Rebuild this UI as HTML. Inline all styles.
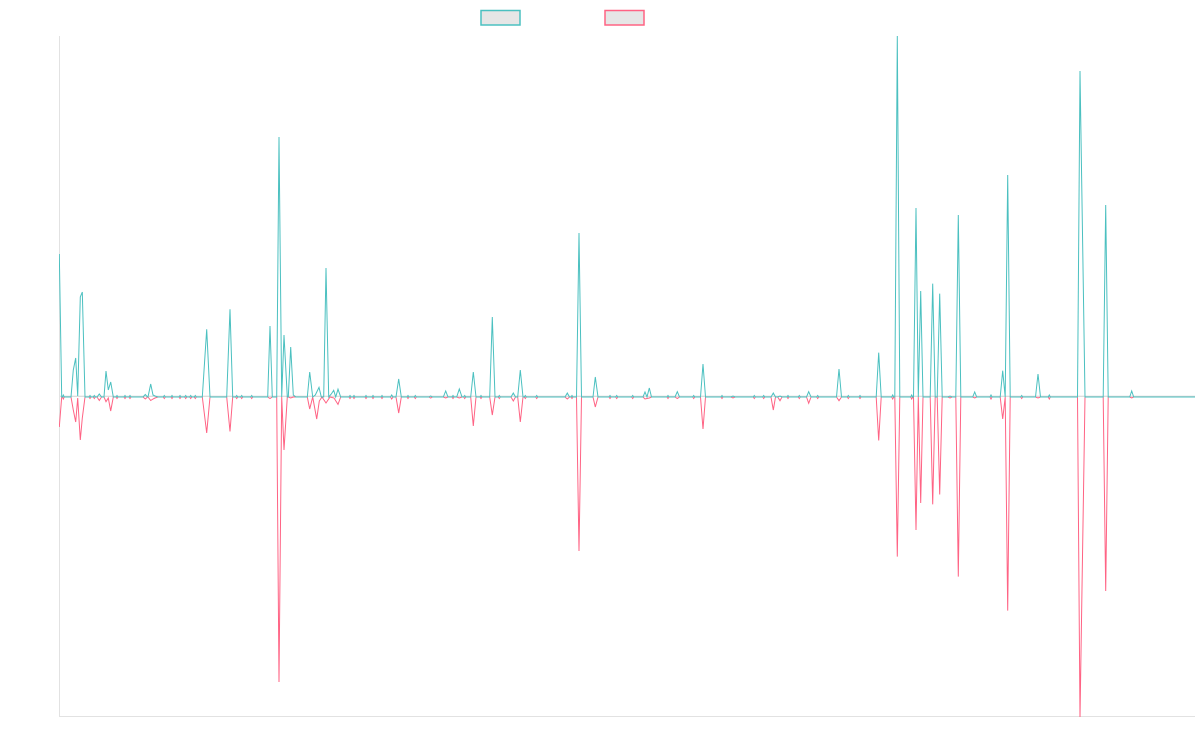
<!DOCTYPE html>
<html>
<head>
<meta charset="utf-8">
<style>
html,body{margin:0;padding:0;background:#fff;}
body{width:1200px;height:750px;overflow:hidden;font-family:"Liberation Sans",sans-serif;}
svg{display:block;}
</style>
</head>
<body>
<svg width="1200" height="750" viewBox="0 0 1200 750" xmlns="http://www.w3.org/2000/svg">
  <rect x="0" y="0" width="1200" height="750" fill="#ffffff"/>
  <!-- legend -->
  <rect x="481" y="10.5" width="39" height="14.5" fill="#e6e6e6" stroke="rgb(75,192,192)" stroke-width="1.5"/>
  <rect x="605" y="10.5" width="39" height="14.5" fill="#e6e6e6" stroke="rgb(255,99,132)" stroke-width="1.5"/>
  <!-- axes -->
  <line x1="59.5" y1="36" x2="59.5" y2="716.5" stroke="#e2e2e2" stroke-width="1"/>
  <line x1="59" y1="716.5" x2="1195" y2="716.5" stroke="#e2e2e2" stroke-width="1"/>
  <line x1="60" y1="396.3" x2="1195" y2="396.3" stroke="#d4d4d4" stroke-width="1"/>
  <defs><clipPath id="c"><rect x="59" y="35" width="1137" height="682"/></clipPath></defs>
  <g clip-path="url(#c)" fill="none" stroke-width="1" stroke-linejoin="miter" stroke-miterlimit="4">
  <path stroke="rgb(255,99,132)" d="M59.3,427 L61.7,397 L62.5,397 L63.3,399 L64.2,397 L71,397 L73.3,410 L75.7,422 L77.7,398 L80.3,440 L82.3,418 L85,397 L89,397 L90,398.5 L91,397 L93.3,397 L94.3,398.5 L95.3,397 L97,397 L99.3,400.5 L101.5,397 L104,397 L106,401.7 L108.3,398 L110.7,411 L113.3,397 L116,397 L117,398.5 L118,397 L124,397 L125,398.5 L126,397 L129,397 L130,398.5 L131,397 L143,397 L145.3,399 L147.5,397 L148,397 L150.7,400.5 L153,399 L155,398 L158,397 L163.3,397 L164.3,398.5 L165.3,397 L171,397 L172,398.5 L173,397 L179,397 L180,398.5 L181,397 L184.7,397 L185.7,398.5 L186.7,397 L189.7,397 L190.7,398.5 L191.7,397 L194.3,397 L195.3,398.5 L196.3,397 L202.3,397 L206.7,433 L210,397 L226.7,397 L230,431.5 L232.7,397 L235.7,397 L236.7,398.5 L237.7,397 L240.7,397 L241.7,398.5 L242.7,397 L250.7,397 L251.7,398.5 L252.7,397 L267.7,397 L270,398.5 L272.3,397 L276.7,397 L279,682 L281.7,397 L284,450 L287.3,397 L288.3,397 L290.7,398 L293.3,397 L296,397 L307.3,397 L309.7,409 L312.7,397 L316.7,419 L319.3,401 L322,397 L326,403 L330,397 L334,398 L338,404.4 L340.7,397 L349,397 L350,398.5 L351,397 L353,397 L354,398.5 L355,397 L365,397 L366,398.5 L367,397 L372,397 L373,398.5 L374,397 L381,397 L382,398.5 L383,397 L390.5,397 L391.7,399 L393,397 L396,397 L398.7,413 L401.3,397 L407,397 L408,398.5 L409,397 L414.3,397 L415.3,398.5 L416.3,397 L429,397 L430.7,398 L432.5,397 L443.3,397 L445.7,398 L448,397 L452,397 L453,398.5 L454,397 L456.7,397 L459.3,398 L462,397 L463.7,397 L464.7,398.5 L465.7,397 L470.7,397 L473.3,426 L476,397 L480,397 L481,398.5 L482,397 L489.7,397 L492.3,415 L495,397 L498.3,397 L499.3,398.5 L500.3,397 L511,397 L513.3,401 L515.5,397 L517.7,397 L520.3,422 L523,397 L524.3,397 L525.3,398.5 L526.3,397 L535.7,397 L536.7,398.5 L537.7,397 L565,397 L567.3,399 L569.5,397 L571,397 L572,398.5 L573,397 L576.5,397 L579,551 L581.5,397 L593,397 L595.3,407 L598,397 L609,397 L610,398.5 L611,397 L615.7,397 L616.7,398.5 L617.7,397 L631.7,397 L632.7,398.5 L633.7,397 L643,397 L645,399 L647,398.5 L649.3,398 L651.5,397 L667,397 L668,398.5 L669,397 L675,397 L677.3,398.5 L679.5,397 L692.7,397 L693.7,398.5 L694.7,397 L700.5,397 L703,429 L705.5,397 L721,397 L722,398.5 L723,397 L731,397 L733,398 L735,397 L753.3,397 L754.3,398.5 L755.3,397 L762.7,397 L763.7,398.5 L764.7,397 L771,397 L773.3,410 L775.5,397 L777.7,397 L780,400.7 L782,397 L787,397 L788,398.5 L789,397 L798.3,397 L799.3,398.5 L800.3,397 L806.5,397 L808.7,403.3 L811,397 L816.7,397 L817.7,398.5 L818.7,397 L836.5,397 L839,400.7 L841.5,397 L847.3,397 L848.3,398.5 L849.3,397 L859,397 L860,398.5 L861,397 L876.2,397 L878.7,440.5 L881.2,397 L891.7,397 L892.7,399 L893.7,397 L894.8,397 L897.3,556.6 L899.8,397 L910.7,397 L911.7,399 L912.7,397 L913.5,397 L916,530 L918.3,397 L920.7,503 L923,397 L930.2,397 L932.7,504.4 L935.2,397 L937.2,397 L939.7,494.5 L942.2,397 L948,397 L950,398 L952,397 L955.8,397 L958.3,576.6 L960.8,397 L972.7,397 L974.7,398 L976.7,397 L990,397 L991,399 L992,397 L1000.2,397 L1002.7,419 L1005.2,397 L1007.7,610.6 L1010.2,397 L1020.7,397 L1021.7,398.5 L1022.7,397 L1035.5,397 L1038,398 L1040.5,397 L1048.3,397 L1049.3,399 L1050.3,397 L1077.5,397 L1080,718 L1082.5,556 L1085,397 L1103.2,397 L1105.7,591 L1108.2,397 L1129.7,397 L1131.7,398 L1133.7,397 L1195,397"/>
  <path stroke="rgb(75,192,192)" d="M59.3,254 L61.7,397 L62.5,397 L63.3,395 L64.2,397 L71,397 L73.3,370 L75.7,358 L77.7,396 L80.3,297 L82.3,292 L85,397 L89,397 L90,395.5 L91,397 L93.3,397 L94.3,395.5 L95.3,397 L97,397 L99.3,394 L101.5,397 L104,397 L106,371 L108.3,390 L110.7,382 L113.3,397 L116,397 L117,395.5 L118,397 L124,397 L125,395.5 L126,397 L129,397 L130,395.5 L131,397 L143,397 L145.3,394.5 L147.5,397 L148,397 L150.7,384 L153,395 L155,396 L158,397 L163.3,397 L164.3,395.5 L165.3,397 L171,397 L172,395.5 L173,397 L179,397 L180,395.5 L181,397 L184.7,397 L185.7,395.5 L186.7,397 L189.7,397 L190.7,395.5 L191.7,397 L194.3,397 L195.3,395.5 L196.3,397 L202.3,397 L206.7,329.3 L210,397 L226.7,397 L230,309.3 L232.7,397 L235.7,397 L236.7,395.5 L237.7,397 L240.7,397 L241.7,395.5 L242.7,397 L250.7,397 L251.7,395.5 L252.7,397 L267.7,397 L270,326 L272.3,397 L276.7,397 L279,137 L281.7,397 L284,335 L287.3,397 L288.3,397 L290.7,347 L293.3,395 L296,397 L307.3,397 L309.7,372 L312.7,397 L315.3,395 L319,387.4 L321.3,397 L323.7,397 L326,268 L328.7,397 L331.3,394 L333.7,390.3 L335.7,397 L338,389.2 L340.7,397 L349,397 L350,395.5 L351,397 L353,397 L354,395.5 L355,397 L365,397 L366,395.5 L367,397 L372,397 L373,395.5 L374,397 L381,397 L382,395.5 L383,397 L390.5,397 L391.7,395 L393,397 L396,397 L398.7,379 L401.3,397 L407,397 L408,395.5 L409,397 L414.3,397 L415.3,395.5 L416.3,397 L429,397 L430.7,396 L432.5,397 L443.3,397 L445.7,391 L448,397 L452,397 L453,395.5 L454,397 L456.7,397 L459.3,389 L462,397 L463.7,397 L464.7,395.5 L465.7,397 L470.7,397 L473.3,372 L476,397 L480,397 L481,395.5 L482,397 L489.7,397 L492.3,317 L495,397 L498.3,397 L499.3,395.5 L500.3,397 L511,397 L513.3,393 L515.5,397 L517.7,397 L520.3,370 L523,397 L524.3,397 L525.3,395.5 L526.3,397 L535.7,397 L536.7,395.5 L537.7,397 L565,397 L567.3,393 L569.5,397 L571,397 L572,395.5 L573,397 L576.5,397 L579,233 L581.5,397 L593,397 L595.3,377 L598,397 L609,397 L610,395.5 L611,397 L615.7,397 L616.7,395.5 L617.7,397 L631.7,397 L632.7,395.5 L633.7,397 L643,397 L645,392 L647,397 L649.3,388 L651.5,397 L667,397 L668,395.5 L669,397 L675,397 L677.3,391.7 L679.5,397 L692.7,397 L693.7,395.5 L694.7,397 L700.5,397 L703,364 L705.5,397 L721,397 L722,395.5 L723,397 L731,397 L733,396 L735,397 L753.3,397 L754.3,395.5 L755.3,397 L762.7,397 L763.7,395.5 L764.7,397 L771,397 L773.3,393 L775.5,397 L777.7,397 L780,396 L782,397 L787,397 L788,395.5 L789,397 L798.3,397 L799.3,395.5 L800.3,397 L806.5,397 L808.7,391.7 L811,397 L816.7,397 L817.7,395.5 L818.7,397 L836.5,397 L839,369 L841.5,397 L847.3,397 L848.3,395.5 L849.3,397 L859,397 L860,395.5 L861,397 L876.2,397 L878.7,352.6 L881.2,397 L891.7,397 L892.7,395 L893.7,397 L894.8,397 L897.3,36 L899.8,397 L910.7,397 L911.7,395 L912.7,397 L913.5,397 L916,208 L918.3,397 L920.7,291 L923,397 L930.2,397 L932.7,283.6 L935.2,397 L937.2,397 L939.7,293.6 L942.2,397 L948,397 L950,396 L952,397 L955.8,397 L958.3,215 L960.8,397 L972.7,397 L974.7,392 L976.7,397 L990,397 L991,395 L992,397 L1000.2,397 L1002.7,370.7 L1005.2,397 L1007.7,175 L1010.2,397 L1020.7,397 L1021.7,395.5 L1022.7,397 L1035.5,397 L1038,374 L1040.5,397 L1048.3,397 L1049.3,395 L1050.3,397 L1077.5,397 L1080,71 L1082.5,234 L1085,397 L1103.2,397 L1105.7,205 L1108.2,397 L1129.7,397 L1131.7,391 L1133.7,397 L1195,397"/>
  </g>
</svg>
</body>
</html>
